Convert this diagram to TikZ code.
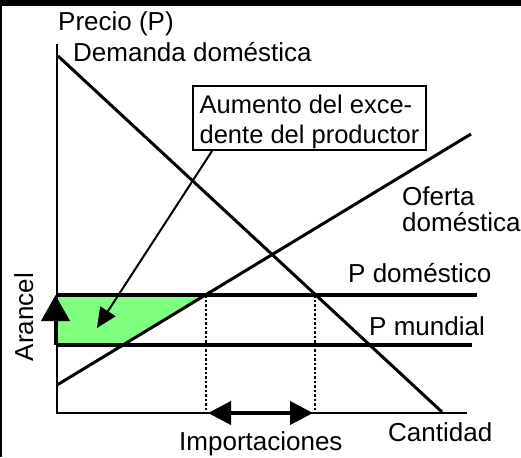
\documentclass[tikz,border=0pt]{standalone}
\usepackage{fontspec}
\setmainfont{Liberation Sans}
\usetikzlibrary{arrows.meta}
\definecolor{surplus}{HTML}{80FF80}
\begin{document}
\begin{tikzpicture}[x=1pt,y=-1pt,
  lbl/.style={inner sep=0pt, anchor=base west, font=\fontsize{26}{30}\selectfont},
  curve/.style={line width=3pt},
  price/.style={line width=4pt},
  axis/.style={line width=2.2pt},
  guide/.style={line width=2.5pt, dash pattern=on 2.5pt off 2pt},
  boxnode/.style={draw, line width=2pt, fill=white, inner sep=0pt, align=left,
    minimum width=233pt, minimum height=64pt, font=\fontsize{25.5}{30}\selectfont},
  bigtip/.style={line width=4pt},
]
\useasboundingbox (0,0) rectangle (521,457);
\fill[white] (0,0) rectangle (521,457);
\fill[black] (0,0) rectangle (521,6);
\fill[black] (0,0) rectangle (2,457);

% coordinates
\coordinate (O) at (57,413);
\coordinate (Ytop) at (57,44);
\coordinate (Xend) at (467,413);
\coordinate (D1) at (58,56);
\coordinate (D2) at (442,412);
\coordinate (S1) at (57,385);
\coordinate (S2) at (471,134);
\coordinate (PD1) at (57,295);
\coordinate (PD2) at (477,295);
\coordinate (PW1) at (57,345);
\coordinate (PW2) at (472,345);
\coordinate (Sd) at (206,295);
\coordinate (Sw) at (122,345);
\coordinate (Dd) at (315,295);
\coordinate (Sdb) at (206,413);
\coordinate (Ddb) at (315,413);
\coordinate (IL) at (208,413);
\coordinate (IR) at (313,413);
\coordinate (AB) at (55.5,345);
\coordinate (AT) at (55.5,295);
\coordinate (tip) at (97,328);

% surplus area
\fill[surplus] (PD1) -- (Sd) -- (Sw) -- (PW1) -- cycle;

% axes
\draw[axis] (Ytop) -- (O) -- (Xend);

% curves
\draw[curve] (D1) -- (D2);
\draw[curve] (S1) -- (S2);
\draw[price] (PD1) -- (PD2);
\draw[price] (PW1) -- (PW2);

% guides
\draw[guide] (Sd) -- (Sdb);
\draw[guide] (Dd) -- (Ddb);

% imports arrow
\draw[bigtip, {Triangle[length=23pt,width=23pt]}-{Triangle[length=23pt,width=23pt]}] (IL) -- (IR);

% tariff arrow
\draw[bigtip, -{Triangle[length=26pt,width=28pt]}] (AB) -- (AT);

% box
\node[boxnode] (box) at (309.5,118) {\rule{0pt}{25.3pt}Aumento del exce-\\dente del productor};
\coordinate (ptr) at ([xshift=20pt]box.south west);
\draw[line width=2pt, -{Triangle[length=20pt,width=18pt]}] (ptr) -- (tip);

% labels
\node[lbl] (precio) at (58,30.5) {Precio (P)};
\node[lbl] (dem) at (73,61.5) {Demanda doméstica};
\node[lbl] (of1) at (402,205) {Oferta};
\node[lbl] (of2) at (402,231.7) {doméstica};
\node[lbl] (pdom) at (348,282.5) {P doméstico};
\node[lbl] (pmun) at (369,335) {P mundial};
\node[lbl] (cant) at (388,441.5) {Cantidad};
\node[lbl] (imp) at (179,450.5) {Importaciones};
\node[inner sep=0pt, anchor=base, rotate=90, font=\fontsize{26}{30}\selectfont] (ar) at (33,317) {Arancel};
\end{tikzpicture}
\end{document}
